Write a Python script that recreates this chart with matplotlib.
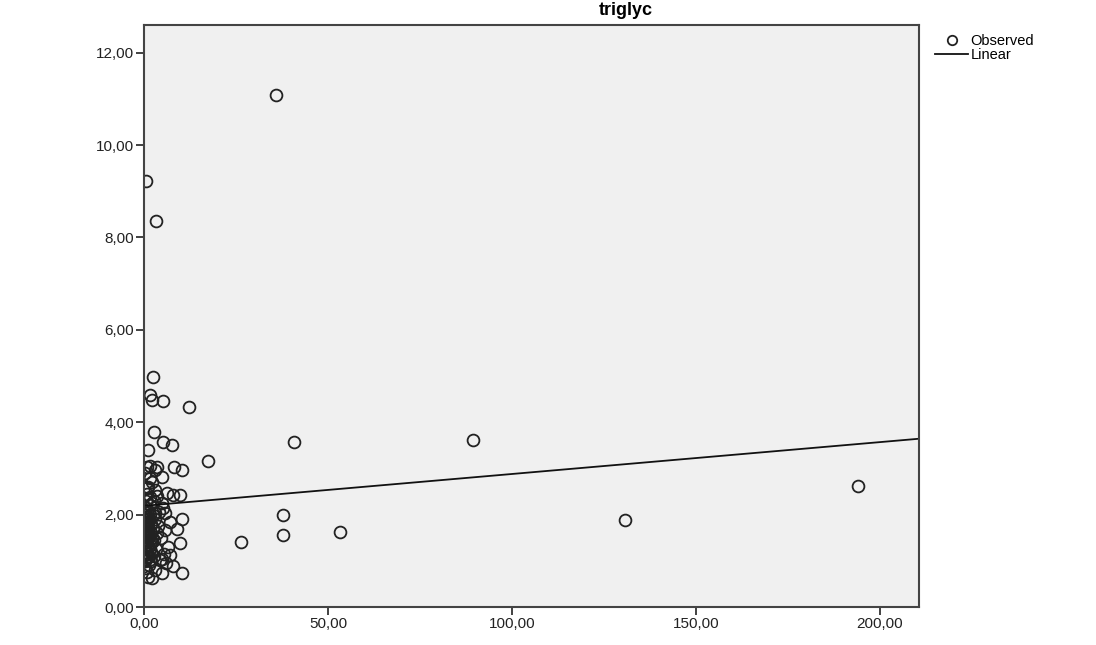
#Plotting
import matplotlib
matplotlib.use("Agg")
import matplotlib.pyplot as plt
import numpy as np

#Observed points (x, triglyc)
x_obs = [35.9, 0.5, 3.3, 2.5, 1.6, 2.1, 5.2, 12.3, 2.8, 5.1, 7.6, 1.2, 17.5,
         40.8, 89.4, 194.0, 130.7, 37.8, 37.8, 26.4, 53.3,
         0.7, 3.4, 8.2, 10.2, 3.0, 1.6, 4.8, 0.8, 3.0, 6.2, 8.0, 9.8, 1.6,
         2.1, 4.8, 5.2, 3.0, 5.7, 10.2, 7.1, 8.9, 5.7, 9.8, 7.1, 4.4, 1.2,
         8.0, 4.8, 10.2, 2.1,
         0.3, 0.5, 0.8, 1.0, 0.4, 1.2, 0.6, 0.9, 1.5, 0.3, 1.8, 2.2, 0.7,
         1.4, 2.0, 0.2, 1.1, 0.5, 1.6, 2.5, 0.4, 1.3, 0.8, 1.0, 0.6, 1.9,
         2.8, 3.2, 2.6, 3.5, 2.9, 0.5, 1.7, 2.4, 1.1, 0.9, 0.3, 1.5, 2.2,
         3.8, 4.2, 4.8, 5.5, 6.0, 6.5, 4.5, 3.0, 0.2, 0.7, 1.3, 1.6, 2.7, 3.6,
         0.4, 0.9, 1.4, 0.2, 0.6, 1.1, 1.8, 0.3, 0.8, 1.2, 0.5, 1.0, 1.7, 2.3,
         0.6, 1.3, 0.2, 0.9]
y_obs = [11.09, 9.23, 8.36, 4.97, 4.59, 4.48, 4.47, 4.32, 3.78, 3.58, 3.50, 3.41, 3.17,
         3.57, 3.62, 2.62, 1.88, 1.99, 1.56, 1.41, 1.62,
         3.04, 3.04, 3.03, 2.97, 2.97, 2.79, 2.82, 2.57, 2.53, 2.46, 2.43, 2.43, 2.39,
         2.25, 2.25, 2.14, 2.03, 2.03, 1.90, 1.83, 1.68, 1.67, 1.39, 1.13, 1.02, 1.09,
         0.89, 0.73, 0.73, 0.62,
         1.00, 1.20, 1.40, 1.50, 1.60, 1.70, 1.80, 1.90, 2.00, 2.10, 1.60, 1.50, 1.30,
         1.10, 1.20, 1.75, 1.85, 1.95, 1.35, 1.70, 0.85, 0.90, 0.75, 0.65, 1.05, 1.00,
         1.10, 1.25, 1.45, 1.60, 1.90, 2.30, 2.20, 2.00, 2.60, 2.45, 2.90, 3.05, 2.70,
         1.75, 2.05, 1.05, 1.15, 0.95, 1.30, 1.50, 0.80, 1.45, 1.55, 2.05, 1.65, 2.30, 2.40,
         1.30, 1.45, 1.55, 1.65, 1.85, 1.75, 1.80, 1.25, 1.15, 1.95, 1.40, 1.60, 1.25, 1.40,
         2.00, 1.90, 1.05, 1.70]

#Linear fit
intercept = 2.19
slope = 0.0069

x_ticks = [0, 50, 100, 150, 200]
x_labels = ["0,00", "50,00", "100,00", "150,00", "200,00"]
y_ticks = [0, 2, 4, 6, 8, 10, 12]
y_labels = ["0,00", "2,00", "4,00", "6,00", "8,00", "10,00", "12,00"]

plt.rcParams['font.family'] = ['Liberation Sans', 'DejaVu Sans']

fig = plt.figure(figsize=(10.96, 6.45), dpi=100)
ax = fig.add_axes([0.1314, 0.0589, 0.7071, 0.9023])
ax.set_facecolor("#f0f0f0")

ax.plot(x_obs, y_obs, linestyle="none", marker="o", markersize=8.5,
        markerfacecolor="none", markeredgecolor="#222222", markeredgewidth=1.3,
        label="Observed")

x_line = np.array([0, 210.6])
ax.plot(x_line, intercept + slope * x_line, color="#111111", linewidth=1.3, label="Linear")

ax.set_xlim(0, 210.6)
ax.set_ylim(0, 12.6)
ax.set_xticks(x_ticks)
ax.set_xticklabels(x_labels)
ax.set_yticks(y_ticks)
ax.set_yticklabels(y_labels)
ax.tick_params(direction="out", length=6, width=1.3, color="#333333",
               labelsize=11, labelcolor="#222222", pad=1)
for s in ax.spines.values():
    s.set_color("#444444")
    s.set_linewidth(1.5)

fig.text(0.571, 0.984, "triglyc", ha="center", va="center",
         fontsize=13, fontweight="bold")

leg = ax.legend(loc="upper left", bbox_to_anchor=(1.01, 1.0), frameon=False,
                fontsize=10.5, handlelength=2.2, handletextpad=0.2, labelspacing=0.0,
                borderaxespad=0.2, markerscale=0.8)

fig.savefig("out.png", dpi=100)
